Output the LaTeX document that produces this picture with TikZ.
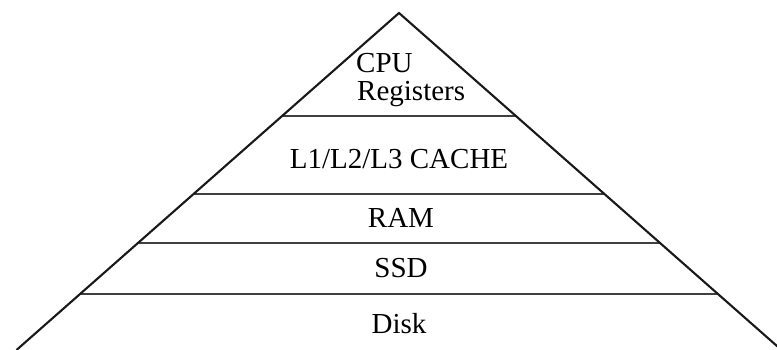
\documentclass[tikz,border=0pt]{standalone}
\usepackage{fontspec}
\setmainfont{Liberation Serif}
\begin{document}
\begin{tikzpicture}[x=1pt,y=-1pt,
  edge/.style={line width=2.1pt, black!90},
  level/.style={line width=2.6pt, black!75},
  lbl/.style={anchor=base, inner sep=0pt, font=\fontsize{29}{30}\selectfont}]
\useasboundingbox (0,0) rectangle (777,350);
\clip (0,0) rectangle (777,350);
\fill[white] (0,0) rectangle (777,350);
\coordinate (apex) at (399,13);
\coordinate (bl) at (16.5,350);
\coordinate (br) at (781.5,350);
\coordinate (l1) at (282,116);  \coordinate (r1) at (516,116);
\coordinate (l2) at (193.6,194); \coordinate (r2) at (604.4,194);
\coordinate (l3) at (138,243);  \coordinate (r3) at (660,243);
\coordinate (l4) at (80,294);   \coordinate (r4) at (718,294);
\draw[level] (l1) -- (r1);
\draw[level] (l2) -- (r2);
\draw[level] (l3) -- (r3);
\draw[level] (l4) -- (r4);
\draw[edge, line join=miter] (bl) -- (apex) -- (br);
\node[lbl, anchor=base west] (cpu) at (356,73) {CPU};
\node[lbl, anchor=base west] (reg) at (357,101) {Registers};
\node[lbl] (cache) at (399,169) {L1/L2/L3 CACHE};
\node[lbl] (ram) at (401,227) {RAM};
\node[lbl] (ssd) at (401,277) {SSD};
\node[lbl] (disk) at (399,333) {Disk};
\end{tikzpicture}
\end{document}
